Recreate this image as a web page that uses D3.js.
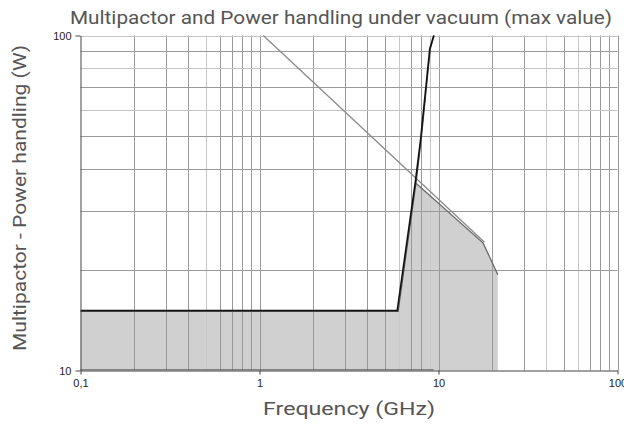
<!DOCTYPE html>
<html>
<head>
<meta charset="utf-8">
<script src="https://cdn.jsdelivr.net/npm/d3@7"></script>
<style>
  html, body { margin: 0; padding: 0; background: #fff; }
  svg { display: block; }
</style>
</head>
<body>
<svg id="chart" width="624" height="424"></svg>
<script>
// ---- data ----
const xTickValues = [0.1, 1, 10, 100];
const xTickLabels = ["0,1", "1", "10", "100"];
const yTickValues = [10, 100];
const yTickLabels = ["10", "100"];

// multipactor threshold (black)
const multipactorF = [0.1, 5.88, 7.44, 7.93, 8.94, 9.41];
const multipactorP = [15.1, 15.1, 36.9, 48.6, 91.3, 100];
const multipactor2F = [0.1, 5.95, 7.52, 8.0, 9.0, 9.46];
const multipactor2P = [15.0, 15.0, 36.9, 48.6, 91.3, 100];

// power handling (grey)
const powerF = [1.05, 18.07];
const powerP = [100, 24.15];
const powerLowF = [7.49, 17.77, 21.45];
const powerLowP = [36.2, 24.0, 19.3];

// safe operating region (filled)
const areaF = [0.1, 5.88, 7.49, 17.77, 21.45];
const areaP = [15.0, 15.0, 36.2, 24.0, 19.3];

// bottom line of region
const baseF = [0.1, 9.4];
const baseP = [10.05, 10.05];

const gridX = [0.2,0.3,0.4,0.5,0.6,0.7,0.8,0.9,1,2,3,4,5,6,7,8,9,10,20,30,40,50,60,70,80,90,100];
const gridXLight = [0.5, 6, 9, 40, 60];
const gridY = [20,30,40,50,60,70,80,90,100];
const gridYLight = [60, 80, 100];

// ---- chart ----
const svg = d3.select("#chart");
const x = d3.scaleLog().domain([0.1, 100]).range([80.5, 617.5]);
const y = d3.scaleLog().domain([10, 100]).range([370.5, 35.5]);

const zip = (a, b) => a.map((v, i) => [v, b[i]]);
const line = d3.line().x(d => x(d[0])).y(d => y(d[1]));
const area = d3.area().x(d => x(d[0])).y0(y(10)).y1(d => y(d[1]));

// fill
svg.append("path")
  .datum(zip(areaF, areaP))
  .attr("d", area)
  .attr("fill", "#d0d0d0");

// grid
svg.append("g").selectAll("line").data(gridX).join("line")
  .attr("x1", d => Math.round(x(d)) + 0.5).attr("x2", d => Math.round(x(d)) + 0.5)
  .attr("y1", y(100)).attr("y2", y(10))
  .attr("stroke", d => gridXLight.includes(d) ? "#c8c8c8" : "#9a9a9a")
  .attr("stroke-width", 1);
svg.append("g").selectAll("line").data(gridY).join("line")
  .attr("x1", x(0.1)).attr("x2", x(100))
  .attr("y1", d => Math.round(y(d)) + 0.5).attr("y2", d => Math.round(y(d)) + 0.5)
  .attr("stroke", d => gridYLight.includes(d) ? "#c4c4c4" : "#9a9a9a")
  .attr("stroke-width", 1);

// base line
svg.append("path").datum(zip(baseF, baseP)).attr("d", line)
  .attr("fill", "none").attr("stroke", "#666").attr("stroke-width", 1);

// power handling lines
svg.append("path").datum(zip(powerF, powerP)).attr("d", line)
  .attr("fill", "none").attr("stroke", "#8a8a8a").attr("stroke-width", 1.3);
svg.append("path").datum(zip(powerLowF, powerLowP)).attr("d", line)
  .attr("fill", "none").attr("stroke", "#6a6a6a").attr("stroke-width", 1.3);

// multipactor lines
svg.append("path").datum(zip(multipactor2F, multipactor2P)).attr("d", line)
  .attr("fill", "none").attr("stroke", "#555").attr("stroke-width", 1.2);
svg.append("path").datum(zip(multipactorF, multipactorP)).attr("d", line)
  .attr("fill", "none").attr("stroke", "#111").attr("stroke-width", 1.6);

// axes
const xAxis = d3.axisBottom(x).tickValues(xTickValues)
  .tickFormat((d, i) => xTickLabels[i]).tickSize(4).tickSizeOuter(0);
const gx = svg.append("g").attr("transform", `translate(0,${y(10)})`).call(xAxis);
gx.select(".domain").attr("stroke", "#444");
gx.selectAll(".tick line").attr("stroke", "#444");
gx.selectAll("text").attr("font-family", "Liberation Sans, Arial, sans-serif")
  .attr("font-size", 11).attr("fill", "#222").attr("dy", "0.9em");

const yAxis = d3.axisLeft(y).tickValues(yTickValues)
  .tickFormat((d, i) => yTickLabels[i]).tickSize(5).tickSizeOuter(0);
const gy = svg.append("g").attr("transform", `translate(${x(0.1)},0)`).call(yAxis);
gy.select(".domain").attr("stroke", "#444");
gy.selectAll(".tick line").attr("stroke", "#444");
gy.selectAll("text").attr("font-family", "Liberation Sans, Arial, sans-serif")
  .attr("font-size", 11).attr("fill", "#222").attr("x", -9);

// titles
svg.append("text")
  .attr("x", 341).attr("y", 24)
  .attr("text-anchor", "middle")
  .attr("font-family", "Roboto, sans-serif").attr("font-size", 19)
  .attr("fill", "#555")
  .attr("textLength", 542).attr("lengthAdjust", "spacingAndGlyphs")
  .text("Multipactor and Power handling under vacuum (max value)");

svg.append("text")
  .attr("x", 349).attr("y", 415)
  .attr("text-anchor", "middle")
  .attr("font-family", "Roboto, sans-serif").attr("font-size", 19)
  .attr("fill", "#555")
  .attr("textLength", 172).attr("lengthAdjust", "spacingAndGlyphs")
  .text("Frequency (GHz)");

svg.append("text")
  .attr("transform", "translate(26,198) rotate(-90)")
  .attr("text-anchor", "middle")
  .attr("font-family", "Roboto, sans-serif").attr("font-size", 19)
  .attr("fill", "#555")
  .attr("textLength", 306).attr("lengthAdjust", "spacingAndGlyphs")
  .text("Multipactor - Power handling (W)");
</script>
</body>
</html>
